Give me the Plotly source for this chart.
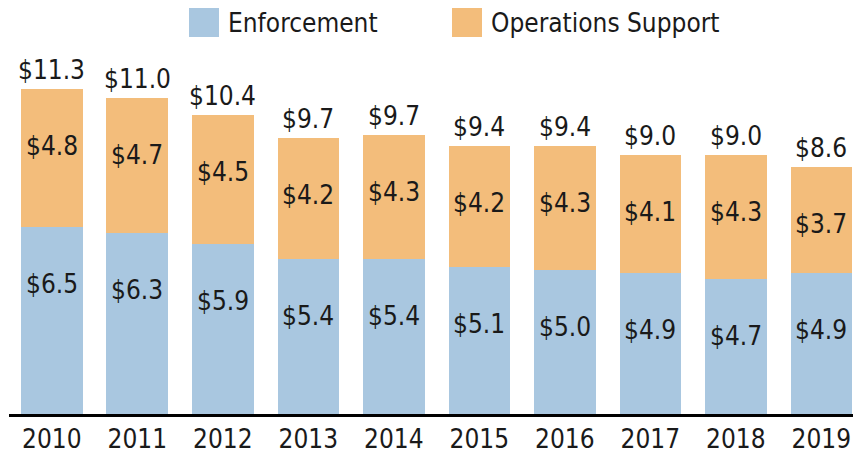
import plotly.graph_objects as go

years = ["2010", "2011", "2012", "2013", "2014", "2015", "2016", "2017", "2018", "2019"]
enforcement = [6.5, 6.3, 5.9, 5.4, 5.4, 5.1, 5.0, 4.9, 4.7, 4.9]
operations = [4.8, 4.7, 4.5, 4.2, 4.3, 4.2, 4.3, 4.1, 4.3, 3.7]
totals = [11.3, 11.0, 10.4, 9.7, 9.7, 9.4, 9.4, 9.0, 9.0, 8.6]
series_names = ["Enforcement", "Operations Support"]

BLUE = "#a9c7e0"
ORANGE = "#f3bd7b"
TXT = "#1a1a1a"
FONT = "Liberation Sans Narrow, DejaVu Sans Condensed, sans-serif"
FS = 26

# page is offset by the default 8px body margin; visible area ends at x=853
OFF = 8
PLOT_L, PLOT_R, PLOT_T, PLOT_B = 9, 853, 8, 414  # page pixels
PW = PLOT_R - PLOT_L
PH = PLOT_B - PLOT_T
FIG_BOTTOM = 454

fig = go.Figure()
fig.add_trace(go.Bar(x=years, y=enforcement, name=series_names[0],
                     marker=dict(color=BLUE, line=dict(width=0)), showlegend=False))
fig.add_trace(go.Bar(x=years, y=operations, name=series_names[1],
                     marker=dict(color=ORANGE, line=dict(width=0)), showlegend=False))

annotations = []
for i, yr in enumerate(years):
    e = enforcement[i]
    o = operations[i]
    f = dict(family=FONT, size=FS, color=TXT)
    annotations.append(dict(x=i, y=e, text=f"${e:.1f}", showarrow=False, yanchor="middle", yshift=-57, font=f))
    annotations.append(dict(x=i, y=e + o, text=f"${o:.1f}", showarrow=False, yanchor="middle", yshift=-57, font=f))
    annotations.append(dict(x=i, y=e + o, text=f"${totals[i]:.1f}", showarrow=False, yanchor="bottom", yshift=2, font=f))

# legend (manual, large swatches)
legend_items = [(series_names[0], BLUE, 189), (series_names[1], ORANGE, 452)]
shapes = []
for name, col, px in legend_items:
    shapes.append(dict(type="rect", xref="paper", yref="paper",
                       x0=(px - PLOT_L) / PW, x1=(px + 30 - PLOT_L) / PW,
                       y0=(PLOT_B - 37) / PH, y1=(PLOT_B - 7) / PH,
                       fillcolor=col, line=dict(width=0)))
    annotations.append(dict(xref="paper", yref="paper", x=(px + 37 - PLOT_L) / PW, y=(PLOT_B - 23) / PH,
                            xanchor="left", yanchor="middle", text=name, showarrow=False,
                            font=dict(family=FONT, size=FS, color=TXT)))

fig.update_layout(
    width=PLOT_R - OFF, height=FIG_BOTTOM - OFF,
    margin=dict(l=PLOT_L - OFF, r=0, t=PLOT_T - OFF, b=FIG_BOTTOM - PLOT_B),
    barmode="stack", bargap=0.28,
    plot_bgcolor="white", paper_bgcolor="white",
    font=dict(family=FONT, size=FS, color=TXT),
    annotations=annotations, shapes=shapes,
    xaxis=dict(type="category", range=[-0.5, 9.37], showline=True, linecolor="black", linewidth=3,
               ticks="", showgrid=False, automargin=False, tickfont=dict(family=FONT, size=FS, color=TXT)),
    yaxis=dict(range=[0, PH / 28.77], visible=False, showgrid=False),
)

fig.write_html("out.html")
